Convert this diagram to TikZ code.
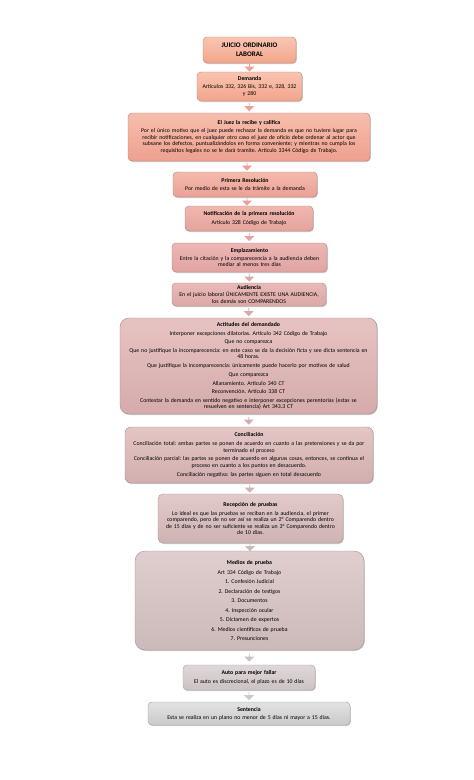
\documentclass[tikz,border=0pt]{standalone}
\usepackage{fontspec}
\setmainfont{Carlito}
\frenchspacing
\usetikzlibrary{shapes.arrows,shadows}
\newcommand\bodysize{\fontsize{5.8}{6.5}\selectfont}
\newcommand\titlesize{\fontsize{7}{8.6}\selectfont}
\definecolor{t1}{HTML}{F9C6B3}\definecolor{b1}{HTML}{F2A58A}
\definecolor{t2}{HTML}{F9C4B0}\definecolor{b2}{HTML}{F2A48B}
\definecolor{t3}{HTML}{F7BEAD}\definecolor{b3}{HTML}{EEA08F}
\definecolor{t4}{HTML}{F4BAAC}\definecolor{b4}{HTML}{EAA095}
\definecolor{t5}{HTML}{F0B8AF}\definecolor{b5}{HTML}{E5A29C}
\definecolor{t6}{HTML}{ECB7B2}\definecolor{b6}{HTML}{E0A4A2}
\definecolor{t7}{HTML}{E8BAB7}\definecolor{b7}{HTML}{DBA8A7}
\definecolor{t8}{HTML}{E6C3C2}\definecolor{b8}{HTML}{D5ABAB}
\definecolor{t9}{HTML}{E4C6C5}\definecolor{b9}{HTML}{D2AEAE}
\definecolor{t10}{HTML}{E2CACA}\definecolor{b10}{HTML}{CFB3B3}
\definecolor{t11}{HTML}{E0CECE}\definecolor{b11}{HTML}{CCB9B9}
\definecolor{t12}{HTML}{E0D8D8}\definecolor{b12}{HTML}{CBC3C3}
\definecolor{t13}{HTML}{E3E1E1}\definecolor{b13}{HTML}{CBCACA}
\tikzset{
  box/.style 2 args={top color=#1, bottom color=#2, draw=#2!80!black, line width=0.4pt,
    rounded corners=4pt, align=center, inner sep=2pt, font=\bodysize,
    drop shadow={shadow xshift=0.8pt, shadow yshift=-1pt, opacity=0.35, fill=black!60}},
  darr/.style={single arrow, shape border rotate=270, minimum height=8pt, minimum width=10pt,
    single arrow head extend=2.5pt, inner sep=0pt, draw=none, fill=#1}
}
\begin{document}
\begin{tikzpicture}[x=1pt,y=-1pt]
\useasboundingbox[fill=white] (0,0) rectangle (474,780);
\node[box={t1}{b1}, minimum width=93pt, minimum height=26pt, text width=89pt, font=\titlesize] (n1) at (249.5,50)
  {\textbf{JUICIO ORDINARIO}\\\textbf{LABORAL}};
\node[box={t2}{b2}, minimum width=105pt, minimum height=29pt, text width=101pt] (n2) at (249.5,86.5)
  {\textbf{Demanda}\\[1.5pt]Artículos 332, 326 Bis, 332 e, 328, 332\\y 280};
\node[box={t3}{b3}, minimum width=242pt, minimum height=48pt, text width=238pt] (n3) at (249,137)
  {\textbf{El Juez la recibe y califica}\\[1.5pt]
   Por el único motivo que el juez puede rechazar la demanda es que no tuviere lugar para\\
   recibir notificaciones, en cualquier otro caso el juez de oficio debe ordenar al actor que\\
   subsane los defectos, puntualizándolos en forma conveniente; y mientras no cumpla los\\
   requisitos legales no se le dará tramite. Artículo 3344 Código de Trabajo.};
\node[box={t4}{b4}, minimum width=144pt, minimum height=25pt, text width=140pt] (n4) at (245,184.5)
  {\textbf{Primera Resolución}\\[2pt]Por medio de esta se le da trámite a la demanda};
\node[box={t5}{b5}, minimum width=128pt, minimum height=25pt, text width=124pt] (n5) at (249,218.5)
  {\textbf{Notificación de la primera resolución}\\[2pt]Artículo 328 Código de Trabajo};
\node[box={t6}{b6}, minimum width=155pt, minimum height=29pt, text width=151pt] (n6) at (249.5,257.5)
  {\textbf{Emplazamiento}\\[1.5pt]Entre la citación y la comparecencia a la audiencia deben\\mediar al menos tres días};
\node[box={t7}{b7}, minimum width=152pt, minimum height=23pt, text width=150pt] (n7) at (249,294.5)
  {\textbf{Audiencia}\\[0.3pt]En el juicio laboral ÚNICAMENTE EXISTE UNA AUDIENCIA,\\los demás son COMPARENDOS};
\node[box={t8}{b8}, rounded corners=9pt, minimum width=257pt, minimum height=96pt, text width=253pt] (n8) at (248.5,366)
  {\textbf{Actitudes del demandado}\\[2.2pt]
   Interponer excepciones dilatorias. Artículo 342 Código de Trabajo\\[2.2pt]
   Que no comparezca\\[2.2pt]
   Que no justifique la incomparecencia: en este caso se da la decisión ficta y see dicta sentencia en\\48 horas.\\[2.2pt]
   Que justifique la incomparecencia: únicamente puede hacerlo por motivos de salud\\[2.2pt]
   Que comparezca\\[2.2pt]
   Allanamiento. Artículo 340 CT\\[2.2pt]
   Reconvención. Artículo 338 CT\\[2.2pt]
   Contestar la demanda en sentido negativo e interponer excepciones perentorias (estas se\\resuelven en sentencia) Art 343.3 CT};
\node[box={t9}{b9}, rounded corners=6pt, minimum width=248pt, minimum height=56pt, text width=244pt] (n9) at (249,455)
  {\textbf{Conciliación}\\[2.3pt]
   Conciliación total: ambas partes se ponen de acuerdo en cuanto a las pretensiones y se da por\\terminado el proceso\\[2.3pt]
   Conciliación parcial: las partes se ponen de acuerdo en algunas cosas, entonces, se continua el\\proceso en cuanto a los puntos en desacuerdo.\\[2.3pt]
   Conciliación negativa: las partes siguen en total desacuerdo};
\node[box={t10}{b10}, rounded corners=5pt, minimum width=185pt, minimum height=49pt, text width=181pt] (n10) at (250.5,518.5)
  {\textbf{Recepción de pruebas}\\[2pt]
   Lo ideal es que las pruebas se reciban en la audiencia, el primer\\
   comparendo, pero de no ser así se realiza un 2° Comparendo dentro\\
   de 15 días y de no ser suficiente se realiza un 3° Comparendo dentro\\
   de 10 días.};
\node[box={t11}{b11}, rounded corners=10pt, minimum width=229pt, minimum height=99pt, text width=225pt] (n11) at (249.5,600.5)
  {\textbf{Medios de prueba}\\[3pt]
   Art 334 Código de Trabajo\\[3pt]
   1. Confesión Judicial\\[3pt]
   2. Declaración de testigos\\[3pt]
   3. Documentos\\[3pt]
   4. Inspección ocular\\[3pt]
   5. Dictamen de expertos\\[3pt]
   6. Medios científicos de prueba\\[3pt]
   7. Presunciones};
\node[box={t12}{b12}, minimum width=132pt, minimum height=25pt, text width=128pt] (n12) at (249,677.5)
  {\textbf{Auto para mejor fallar}\\[2pt]El auto es discrecional, el plazo es de 10 días};
\node[box={t13}{b13}, minimum width=202pt, minimum height=23pt, text width=198pt] (n13) at (249,713.5)
  {\textbf{Sentencia}\\[1.5pt]Esta se realiza en un plano no menor de 5 días ni mayor a 15 días.};
\foreach \a/\b/\c in {n1/n2/b2,n2/n3/b3,n3/n4/b4,n4/n5/b5,n5/n6/b6,n6/n7/b7,n7/n8/b8,n8/n9/b9,n9/n10/b10,n10/n11/b11,n11/n12/b12,n12/n13/b13}{
  \path (\a.south) -- (\b.north) node[midway, darr=\c] (ar\a) {};
}
\end{tikzpicture}
\end{document}
